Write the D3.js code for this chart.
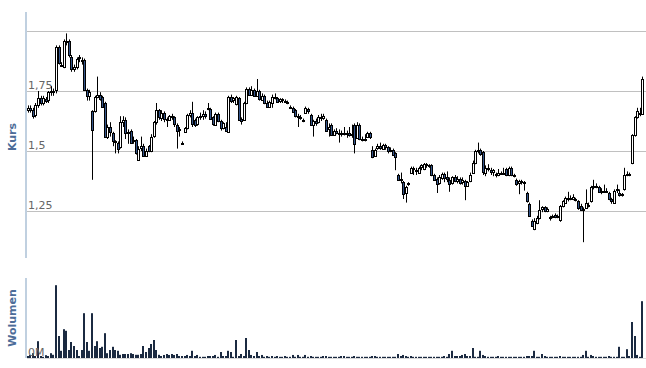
<!DOCTYPE html>
<html lang="pl">
  <head>
    <meta charset="UTF-8" />
    <script src="https://cdn.jsdelivr.net/npm/d3@7"></script>
    <title>Kurs</title>
    <style>
      body { margin: 0; background: #fff; }
      text { font-family: "DejaVu Sans", Verdana, sans-serif; }
    </style>
  </head>
  <body>
    <div id="chart"></div>
    <script>
      // daily quotes
      const opens = [
        1.67, 1.68, 1.67, 1.65, 1.69, 1.72, 1.70, 1.715, 1.71, 1.745,
        1.75, 1.755, 1.935, 1.855, 1.85, 1.96, 1.96, 1.89, 1.84, 1.85,
        1.885, 1.88, 1.88, 1.755, 1.73, 1.665, 1.665, 1.725, 1.735, 1.725,
        1.70, 1.56, 1.60, 1.575, 1.54, 1.535, 1.515, 1.62, 1.63, 1.575,
        1.585, 1.54, 1.545, 1.465, 1.51, 1.52, 1.48, 1.52, 1.50, 1.56,
        1.62, 1.67, 1.64, 1.66, 1.635, 1.63, 1.645, 1.64, 1.61, 1.585,
        1.535, 1.58, 1.595, 1.65, 1.66, 1.63, 1.61, 1.64, 1.645, 1.655,
        1.675, 1.675, 1.64, 1.61, 1.655, 1.625, 1.595, 1.60, 1.58, 1.725,
        1.71, 1.695, 1.72, 1.635, 1.63, 1.70, 1.76, 1.735, 1.755, 1.73,
        1.75, 1.715, 1.73, 1.70, 1.685, 1.70, 1.725, 1.72, 1.705, 1.715,
        1.71, 1.705, 1.685, 1.68, 1.67, 1.645, 1.64, 1.63, 1.66, 1.675,
        1.65, 1.61, 1.625, 1.62, 1.64, 1.635, 1.63, 1.59, 1.61, 1.57,
        1.585, 1.575, 1.57, 1.575, 1.57, 1.575, 1.565, 1.61, 1.555, 1.61,
        1.55, 1.545, 1.56, 1.575, 1.505, 1.48, 1.51, 1.52, 1.51, 1.525,
        1.515, 1.50, 1.505, 1.49, 1.40, 1.38, 1.37, 1.325, 1.36, 1.41,
        1.425, 1.415, 1.41, 1.43, 1.425, 1.445, 1.44, 1.44, 1.40, 1.385,
        1.365, 1.39, 1.405, 1.39, 1.38, 1.365, 1.39, 1.375, 1.385, 1.37,
        1.375, 1.355, 1.375, 1.41, 1.45, 1.50, 1.505, 1.495, 1.41, 1.43,
        1.42, 1.41, 1.405, 1.40, 1.41, 1.405, 1.425, 1.40, 1.43, 1.40,
        1.38, 1.365, 1.375, 1.37, 1.325, 1.28, 1.21, 1.175, 1.20, 1.22,
        1.255, 1.265, 1.25, 1.225, 1.225, 1.235, 1.225, 1.21, 1.27, 1.285,
        1.305, 1.305, 1.30, 1.30, 1.29, 1.27, 1.26, 1.265, 1.275, 1.29,
        1.35, 1.355, 1.35, 1.33, 1.335, 1.33, 1.325, 1.30, 1.285, 1.335,
        1.325, 1.315, 1.34, 1.40, 1.405, 1.45, 1.565, 1.64, 1.66, 1.655
      ];
      const highs = [
        1.69, 1.69, 1.68, 1.70, 1.75, 1.73, 1.73, 1.725, 1.75, 1.77,
        1.76, 1.94, 1.94, 1.87, 1.965, 1.99, 1.965, 1.90, 1.86, 1.89,
        1.90, 1.89, 1.885, 1.76, 1.755, 1.67, 1.73, 1.81, 1.745, 1.73,
        1.705, 1.61, 1.62, 1.58, 1.545, 1.54, 1.645, 1.645, 1.64, 1.59,
        1.59, 1.56, 1.55, 1.52, 1.56, 1.53, 1.51, 1.525, 1.57, 1.625,
        1.70, 1.675, 1.67, 1.665, 1.64, 1.65, 1.655, 1.645, 1.615, 1.60,
        1.54, 1.60, 1.655, 1.67, 1.705, 1.635, 1.645, 1.66, 1.67, 1.665,
        1.70, 1.68, 1.645, 1.66, 1.66, 1.63, 1.62, 1.62, 1.73, 1.735,
        1.725, 1.73, 1.725, 1.64, 1.705, 1.765, 1.765, 1.77, 1.76, 1.80,
        1.755, 1.74, 1.735, 1.71, 1.71, 1.735, 1.74, 1.725, 1.72, 1.72,
        1.715, 1.71, 1.69, 1.685, 1.675, 1.655, 1.65, 1.635, 1.685, 1.68,
        1.655, 1.63, 1.635, 1.65, 1.655, 1.655, 1.635, 1.615, 1.615, 1.59,
        1.595, 1.59, 1.585, 1.60, 1.585, 1.60, 1.61, 1.615, 1.62, 1.615,
        1.56, 1.57, 1.58, 1.58, 1.52, 1.51, 1.53, 1.535, 1.53, 1.53,
        1.52, 1.515, 1.51, 1.495, 1.405, 1.41, 1.375, 1.355, 1.37, 1.435,
        1.435, 1.43, 1.435, 1.445, 1.45, 1.45, 1.445, 1.445, 1.405, 1.39,
        1.40, 1.41, 1.41, 1.415, 1.39, 1.395, 1.40, 1.395, 1.39, 1.39,
        1.38, 1.375, 1.41, 1.46, 1.505, 1.535, 1.51, 1.50, 1.44, 1.445,
        1.43, 1.425, 1.41, 1.425, 1.415, 1.43, 1.43, 1.435, 1.435, 1.405,
        1.385, 1.38, 1.38, 1.375, 1.33, 1.285, 1.215, 1.22, 1.23, 1.295,
        1.27, 1.27, 1.265, 1.23, 1.235, 1.24, 1.235, 1.275, 1.295, 1.31,
        1.33, 1.315, 1.32, 1.305, 1.295, 1.28, 1.265, 1.34, 1.285, 1.355,
        1.38, 1.365, 1.355, 1.345, 1.36, 1.345, 1.33, 1.305, 1.34, 1.36,
        1.34, 1.325, 1.43, 1.415, 1.41, 1.57, 1.645, 1.68, 1.68, 1.81
      ];
      const lows = [
        1.66, 1.66, 1.635, 1.64, 1.68, 1.69, 1.69, 1.70, 1.70, 1.73,
        1.73, 1.74, 1.86, 1.85, 1.845, 1.94, 1.89, 1.83, 1.83, 1.84,
        1.87, 1.86, 1.75, 1.71, 1.71, 1.38, 1.66, 1.72, 1.71, 1.68,
        1.555, 1.55, 1.56, 1.52, 1.49, 1.49, 1.51, 1.60, 1.55, 1.53,
        1.53, 1.53, 1.485, 1.46, 1.50, 1.475, 1.475, 1.495, 1.495, 1.555,
        1.61, 1.63, 1.625, 1.62, 1.60, 1.625, 1.63, 1.60, 1.51, 1.56,
        1.525, 1.575, 1.59, 1.64, 1.60, 1.60, 1.605, 1.63, 1.63, 1.635,
        1.67, 1.63, 1.605, 1.605, 1.62, 1.585, 1.59, 1.58, 1.575, 1.70,
        1.70, 1.69, 1.625, 1.61, 1.625, 1.695, 1.73, 1.73, 1.725, 1.725,
        1.71, 1.71, 1.695, 1.68, 1.68, 1.68, 1.715, 1.70, 1.70, 1.70,
        1.70, 1.695, 1.675, 1.66, 1.64, 1.60, 1.63, 1.62, 1.655, 1.655,
        1.605, 1.56, 1.605, 1.615, 1.625, 1.63, 1.58, 1.56, 1.565, 1.565,
        1.57, 1.535, 1.56, 1.565, 1.555, 1.56, 1.555, 1.49, 1.55, 1.545,
        1.54, 1.54, 1.555, 1.55, 1.47, 1.475, 1.505, 1.505, 1.505, 1.505,
        1.49, 1.495, 1.48, 1.42, 1.375, 1.365, 1.30, 1.285, 1.355, 1.405,
        1.40, 1.40, 1.405, 1.42, 1.42, 1.43, 1.43, 1.395, 1.375, 1.325,
        1.36, 1.38, 1.37, 1.37, 1.33, 1.36, 1.37, 1.365, 1.36, 1.36,
        1.295, 1.35, 1.37, 1.405, 1.445, 1.49, 1.48, 1.40, 1.395, 1.415,
        1.40, 1.395, 1.39, 1.395, 1.40, 1.40, 1.395, 1.395, 1.395, 1.39,
        1.355, 1.32, 1.36, 1.335, 1.285, 1.225, 1.185, 1.17, 1.195, 1.215,
        1.245, 1.245, 1.245, 1.21, 1.22, 1.22, 1.22, 1.205, 1.265, 1.28,
        1.29, 1.295, 1.295, 1.29, 1.255, 1.25, 1.12, 1.26, 1.265, 1.285,
        1.34, 1.345, 1.325, 1.32, 1.325, 1.325, 1.295, 1.28, 1.28, 1.325,
        1.31, 1.31, 1.335, 1.395, 1.395, 1.445, 1.56, 1.635, 1.645, 1.65
      ];
      const closes = [
        1.68, 1.67, 1.645, 1.69, 1.72, 1.70, 1.72, 1.705, 1.745, 1.75,
        1.75, 1.935, 1.87, 1.86, 1.96, 1.955, 1.90, 1.84, 1.85, 1.885,
        1.89, 1.875, 1.755, 1.73, 1.745, 1.585, 1.725, 1.735, 1.72, 1.685,
        1.56, 1.60, 1.58, 1.54, 1.535, 1.51, 1.62, 1.63, 1.575, 1.58,
        1.535, 1.545, 1.49, 1.51, 1.52, 1.48, 1.50, 1.50, 1.56, 1.62,
        1.67, 1.64, 1.66, 1.635, 1.63, 1.645, 1.64, 1.61, 1.585, 1.59,
        1.53, 1.595, 1.65, 1.66, 1.615, 1.61, 1.64, 1.645, 1.655, 1.645,
        1.68, 1.635, 1.61, 1.655, 1.625, 1.595, 1.615, 1.585, 1.725, 1.71,
        1.72, 1.725, 1.63, 1.625, 1.70, 1.76, 1.735, 1.755, 1.73, 1.75,
        1.715, 1.73, 1.70, 1.685, 1.705, 1.725, 1.72, 1.705, 1.715, 1.71,
        1.705, 1.70, 1.68, 1.665, 1.645, 1.64, 1.635, 1.625, 1.68, 1.665,
        1.61, 1.625, 1.615, 1.64, 1.635, 1.645, 1.585, 1.60, 1.57, 1.585,
        1.575, 1.57, 1.575, 1.57, 1.575, 1.565, 1.57, 1.53, 1.61, 1.55,
        1.545, 1.55, 1.575, 1.56, 1.475, 1.505, 1.52, 1.51, 1.525, 1.515,
        1.50, 1.505, 1.485, 1.475, 1.38, 1.385, 1.32, 1.35, 1.365, 1.43,
        1.43, 1.42, 1.43, 1.44, 1.445, 1.44, 1.435, 1.40, 1.38, 1.365,
        1.39, 1.405, 1.39, 1.38, 1.365, 1.39, 1.375, 1.385, 1.37, 1.38,
        1.355, 1.37, 1.40, 1.45, 1.50, 1.505, 1.49, 1.41, 1.43, 1.425,
        1.41, 1.42, 1.40, 1.41, 1.405, 1.41, 1.40, 1.43, 1.40, 1.395,
        1.365, 1.375, 1.37, 1.365, 1.29, 1.23, 1.19, 1.21, 1.22, 1.255,
        1.265, 1.25, 1.26, 1.225, 1.23, 1.225, 1.23, 1.27, 1.29, 1.305,
        1.305, 1.30, 1.31, 1.295, 1.26, 1.255, 1.255, 1.285, 1.27, 1.35,
        1.355, 1.35, 1.33, 1.335, 1.33, 1.335, 1.30, 1.29, 1.335, 1.34,
        1.315, 1.32, 1.40, 1.405, 1.40, 1.565, 1.64, 1.665, 1.66, 1.80
      ];
      // volume in thousands of shares
      const volumes = [
        25, 38, 60, 25, 210, 25, 15, 35, 25, 60,
        40, 910, 275, 90, 360, 340, 100, 200, 150, 100,
        25, 100, 560, 200, 90, 560, 150, 210, 125, 140,
        310, 60, 100, 140, 100, 90, 40, 50, 50, 50,
        60, 50, 40, 40, 50, 150, 75, 125, 175, 225,
        100, 40, 25, 38, 50, 38, 50, 38, 50, 25,
        25, 25, 38, 25, 90, 25, 38, 15, 15, 15,
        25, 25, 25, 38, 15, 75, 25, 25, 90, 75,
        15, 225, 25, 50, 25, 250, 100, 38, 25, 75,
        25, 38, 15, 25, 15, 25, 15, 25, 15, 15,
        25, 15, 15, 38, 15, 38, 15, 15, 38, 15,
        25, 15, 15, 15, 15, 25, 25, 15, 15, 15,
        15, 15, 25, 25, 15, 15, 15, 25, 15, 15,
        15, 15, 15, 15, 25, 25, 15, 15, 15, 15,
        15, 15, 15, 15, 50, 25, 38, 25, 15, 25,
        15, 15, 15, 15, 15, 15, 15, 15, 15, 15,
        15, 15, 25, 15, 50, 90, 25, 25, 25, 38,
        50, 25, 25, 125, 15, 15, 90, 38, 25, 15,
        15, 15, 15, 25, 15, 15, 15, 15, 15, 15,
        15, 15, 15, 15, 25, 25, 25, 90, 15, 15,
        50, 25, 15, 15, 15, 15, 15, 25, 15, 15,
        15, 15, 15, 15, 15, 15, 38, 90, 15, 38,
        25, 15, 15, 15, 15, 15, 25, 15, 15, 15,
        140, 15, 15, 110, 25, 450, 275, 38, 15, 710
      ];
      const priceTicks = [1.25, 1.5, 1.75, 2.0];
      const priceLabels = ["1,25", "1,5", "1,75", ""];
      const volumeTicks = [0];
      const volumeLabels = ["0M"];

      const width = 646, height = 368;
      const upFill = "#ffffff", downFill = "#34558b";
      const axisColor = "#c0d0e0", gridColor = "#c0c0c0";

      const svg = d3
        .select("#chart")
        .append("svg")
        .attr("width", width)
        .attr("height", height);

      const idx = d3.range(closes.length);
      const x = d3.scaleBand().domain(idx).range([27, 644]).padding(0);
      const cx = (i) => Math.floor(x(i) + x.bandwidth() / 2);

      // price panel
      const y = d3.scaleLinear().domain([1.25, 2.0]).range([211, 31]);
      // volume panel
      const yv = d3.scaleLinear().domain([0, 1000]).range([358, 278]);

      // grid lines
      svg
        .append("g")
        .selectAll("line")
        .data(priceTicks)
        .join("line")
        .attr("x1", 27)
        .attr("x2", width)
        .attr("y1", (d) => Math.round(y(d)) + 0.5)
        .attr("y2", (d) => Math.round(y(d)) + 0.5)
        .attr("stroke", gridColor)
        .attr("stroke-width", 1);

      svg
        .append("g")
        .selectAll("line")
        .data(volumeTicks)
        .join("line")
        .attr("x1", 27)
        .attr("x2", width)
        .attr("y1", (d) => Math.round(yv(d)) + 0.5)
        .attr("y2", (d) => Math.round(yv(d)) + 0.5)
        .attr("stroke", "#d8d8d8")
        .attr("stroke-width", 1);

      // tick labels (inside the plot, above the line)
      svg
        .append("g")
        .selectAll("text")
        .data(priceTicks)
        .join("text")
        .attr("x", 28)
        .attr("y", (d) => Math.round(y(d)) - 2)
        .attr("font-size", 11)
        .attr("fill", "#666")
        .text((d, i) => priceLabels[i]);

      // volume bars
      svg
        .append("g")
        .selectAll("rect")
        .data(idx)
        .join("rect")
        .attr("x", (i) => cx(i) - 1)
        .attr("width", 2)
        .attr("y", (i) => yv(volumes[i]))
        .attr("height", (i) => yv(0) - yv(volumes[i]))
        .attr("fill", "#1b2a41");

      svg
        .append("g")
        .selectAll("text")
        .data(volumeTicks)
        .join("text")
        .attr("x", 28)
        .attr("y", (d) => Math.round(yv(d)) - 2)
        .attr("font-size", 11)
        .attr("fill", "#666")
        .text((d, i) => volumeLabels[i]);

      // candles
      const candles = svg.append("g").selectAll("g").data(idx).join("g");
      candles
        .append("line")
        .attr("x1", (i) => cx(i) + 0.5)
        .attr("x2", (i) => cx(i) + 0.5)
        .attr("y1", (i) => y(highs[i]))
        .attr("y2", (i) => y(lows[i]))
        .attr("stroke", "#000")
        .attr("stroke-width", 1);
      candles
        .append("rect")
        .attr("x", (i) => cx(i) - 0.5)
        .attr("width", 2)
        .attr("y", (i) => Math.round(y(Math.max(opens[i], closes[i]))) + 0.5)
        .attr("height", (i) =>
          Math.max(1, Math.round(Math.abs(y(opens[i]) - y(closes[i]))))
        )
        .attr("fill", (i) => (closes[i] >= opens[i] ? upFill : downFill))
        .attr("stroke", "#000")
        .attr("stroke-width", 1);

      // axis lines
      svg
        .append("line")
        .attr("x1", 26)
        .attr("x2", 26)
        .attr("y1", 12)
        .attr("y2", 258)
        .attr("stroke", axisColor)
        .attr("stroke-width", 2);
      svg
        .append("line")
        .attr("x1", 26)
        .attr("x2", 26)
        .attr("y1", 278)
        .attr("y2", 358)
        .attr("stroke", axisColor)
        .attr("stroke-width", 2);

      // axis titles
      svg
        .append("text")
        .attr("transform", "translate(16, 137) rotate(-90)")
        .attr("text-anchor", "middle")
        .attr("font-size", 11)
        .attr("font-weight", "bold")
        .attr("fill", "#4d6d99")
        .text("Kurs");
      svg
        .append("text")
        .attr("transform", "translate(16, 318) rotate(-90)")
        .attr("text-anchor", "middle")
        .attr("font-size", 11)
        .attr("font-weight", "bold")
        .attr("fill", "#4d6d99")
        .text("Wolumen");
    </script>
  </body>
</html>
